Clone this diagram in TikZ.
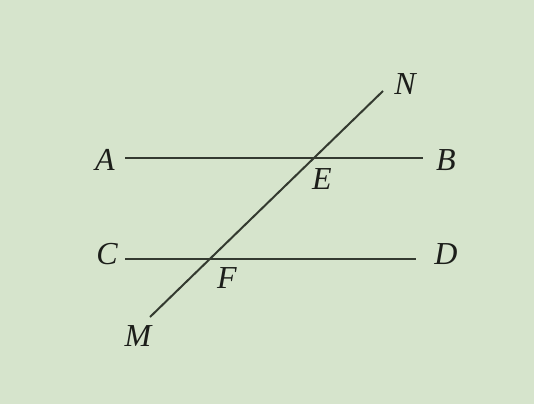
\documentclass[tikz,border=0pt]{standalone}
\usepackage{fontspec}
\setmainfont{Liberation Serif}
\usepackage{xcolor}
\usepackage{tikz}
\usetikzlibrary{positioning, calc}
\definecolor{boardgreen}{RGB}{214, 228, 204}
\definecolor{inkgray}{RGB}{52, 58, 48}
\definecolor{labelblack}{RGB}{28, 30, 26}

\begin{document}
\begin{tikzpicture}[x=1pt, y=-1pt,
    seg/.style={draw=inkgray, line width=2pt},
    ptlabel/.style={text=labelblack, inner sep=0pt,
        font=\fontsize{32}{34}\selectfont\itshape}]
    \fill[boardgreen] (0,0) rectangle (534,404);
    \useasboundingbox (0,0) rectangle (534,404);

    % end points of the lines
    \coordinate (a) at (125,158);
    \coordinate (b) at (423,158);
    \coordinate (c) at (125,259);
    \coordinate (d) at (416,259);
    \coordinate (m) at (150,317);
    \coordinate (n) at (383,91);

    \draw[seg] (a) -- (b);
    \draw[seg] (c) -- (d);
    \draw[seg] (m) -- (n);

    % letters
    \node[ptlabel] (A) at (105,160) {A};
    \node[ptlabel] (B) at (446,160) {B};
    \node[ptlabel] (C) at (107,254) {C};
    \node[ptlabel] (D) at (446,254) {D};
    \node[ptlabel] (E) at (322,179) {E};
    \node[ptlabel] (F) at (227,278) {F};
    \node[ptlabel] (M) at (138,336) {M};
    \node[ptlabel] (N) at (405,84) {N};
\end{tikzpicture}
\end{document}
